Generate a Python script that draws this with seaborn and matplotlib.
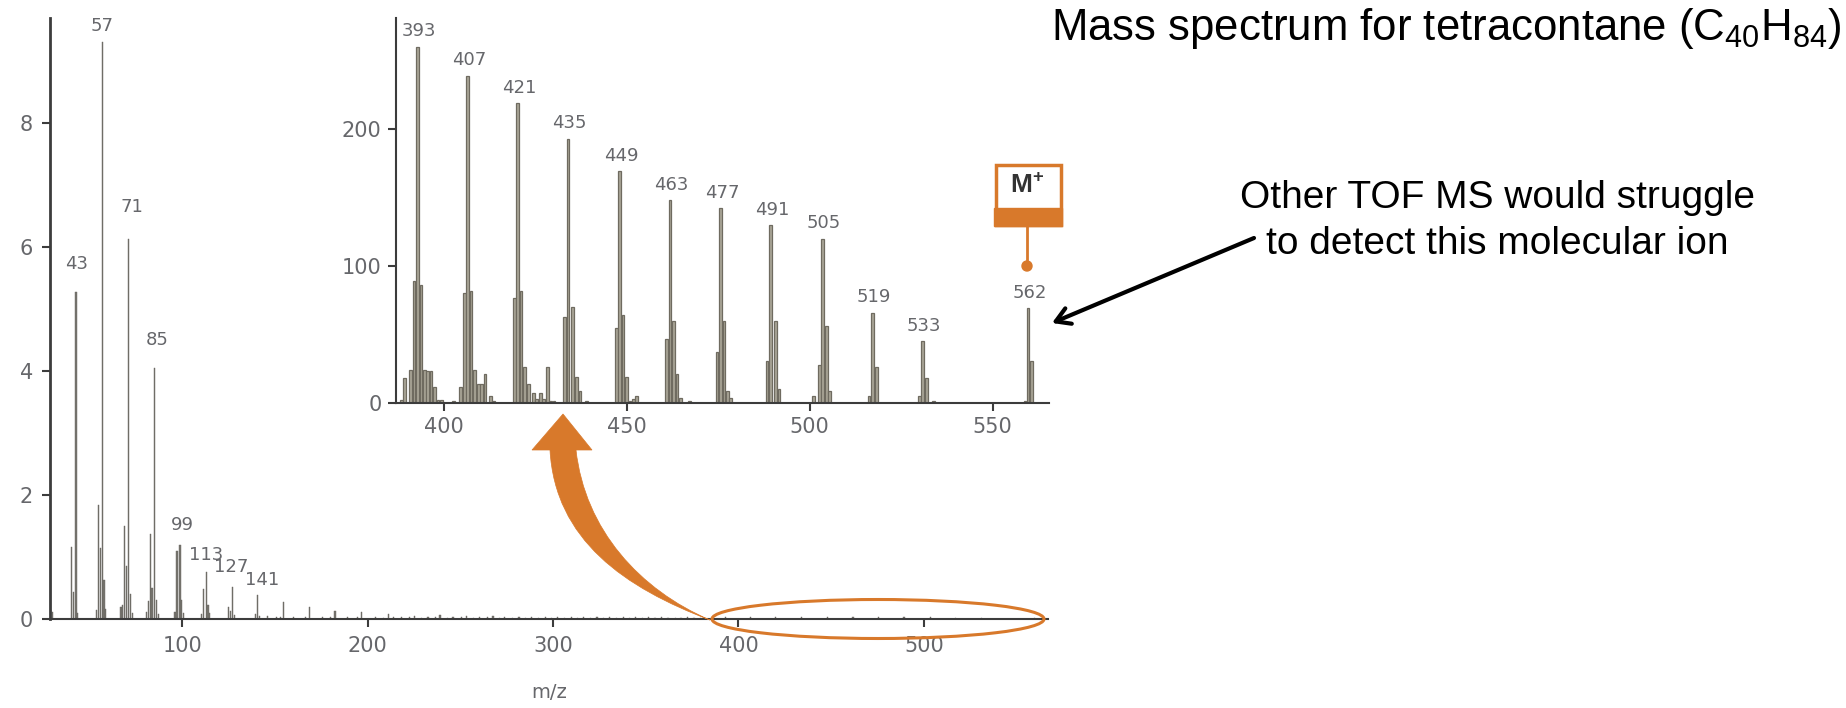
import matplotlib
matplotlib.use("Agg")
import matplotlib.pyplot as plt
from matplotlib.patches import Ellipse, PathPatch, Rectangle, Circle
from matplotlib.path import Path
import seaborn as sns

# main spectrum
main_mz = [28.6, 30.0, 40.3, 41.3, 42.6, 43.6, 53.6, 54.7, 55.7, 56.7, 57.7, 58.7, 66.9, 67.9, 68.9, 70.0, 71.0, 71.9, 72.9,
           80.8, 81.8, 82.6, 83.6, 85.0, 86.0, 87.0, 96.0, 97.1, 98.7, 99.7, 100.7, 110.2, 111.3, 112.8, 113.8, 114.8,
           124.8, 125.8, 127.0, 128.0, 139.2, 140.6, 141.6, 154.7, 168.8, 182.3, 196.8, 211.0, 225.4, 239.0, 253.4, 267.6]
main_int = [0.15, 0.12, 1.16, 0.44, 5.27, 0.1, 0.15, 1.83, 1.14, 9.31, 0.63, 0.16, 0.2, 0.23, 1.5, 0.85, 6.12, 0.41, 0.1,
            0.12, 0.29, 1.37, 0.5, 4.05, 0.3, 0.08, 0.12, 1.1, 1.19, 0.3, 0.1, 0.08, 0.48, 0.76, 0.22, 0.1,
            0.2, 0.13, 0.51, 0.06, 0.08, 0.38, 0.05, 0.27, 0.2, 0.13, 0.11, 0.08, 0.05, 0.07, 0.05, 0.05]
noise_mz = [146.0, 150.7, 153.0, 160.0, 166.5, 175.5, 180.0, 189.0, 194.5, 204.0, 208.5, 214.0, 218.2, 222.5, 229.0, 232.5,
            236.5, 243.0, 246.0, 250.5, 257.0, 260.5, 264.5, 271.0, 274.0, 278.0, 281.6, 285.0, 288.5, 292.0, 295.7, 299.0,
            302.5, 306.0, 309.8, 313.0, 316.5, 320.0, 323.7, 327.0, 330.5, 334.0, 337.8, 341.0, 344.5, 348.0, 351.7, 355.0,
            358.5, 362.0, 365.8, 369.0, 372.5, 376.0, 379.7, 392.8, 406.5, 420.2, 433.9, 448.0,
            461.8, 475.6, 489.3, 503.5, 517.2, 530.9, 559.7]
noise_int = [0.05, 0.04, 0.03, 0.04, 0.03, 0.04, 0.03, 0.04, 0.03, 0.03, 0.02, 0.03, 0.04, 0.03, 0.02, 0.03,
             0.03, 0.02, 0.04, 0.03, 0.02, 0.03, 0.03, 0.02, 0.04, 0.02, 0.03, 0.02, 0.04, 0.02, 0.03, 0.02,
             0.04, 0.02, 0.03, 0.02, 0.04, 0.02, 0.03, 0.02, 0.03, 0.02, 0.03, 0.02, 0.03, 0.02, 0.03, 0.02,
             0.03, 0.02, 0.02, 0.02, 0.03, 0.02, 0.02, 0.04, 0.04, 0.04, 0.03, 0.03,
             0.03, 0.03, 0.03, 0.03, 0.02, 0.02, 0.02]
main_labels = [43, 57, 71, 85, 99, 113, 127, 141]
main_label_mz = [42.6, 56.7, 71.0, 85.0, 98.7, 112.8, 127.0, 140.6]
main_label_int = [5.27, 9.31, 6.12, 4.05, 1.19, 0.76, 0.51, 0.38]

# zoomed region 385-565
inset_mz = [388.4, 389.3, 390.9, 391.8, 392.8, 393.7, 394.7, 395.6, 396.5, 397.5, 398.4, 399.4, 402.7,
            404.6, 405.6, 406.5, 407.4, 408.4, 409.4, 410.3, 411.2, 412.7, 413.6,
            419.3, 420.2, 421.1, 422.1, 423.1, 424.5, 425.4, 426.4, 427.3, 428.3, 429.2, 430.1,
            432.9, 433.9, 435.2, 436.2, 437.2, 439.0,
            447.1, 448.0, 449.0, 450.0, 450.9, 451.8, 452.7,
            460.8, 461.8, 462.8, 463.7, 464.7, 467.2,
            474.7, 475.6, 476.6, 477.5, 478.4,
            488.3, 489.3, 490.7, 491.6,
            501.1, 502.6, 503.5, 504.5, 505.4,
            516.2, 517.2, 518.2,
            530.0, 530.9, 531.9, 533.8,
            558.8, 559.7, 560.7]
inset_int = [2, 18, 24, 89, 260, 86, 24, 23, 23, 12, 2, 2, 1.5,
             12, 80, 239, 82, 24, 14, 14, 21, 5, 1.5,
             77, 219, 82, 26, 14, 7, 3, 7, 3, 26, 1.5, 1.5,
             63, 193, 70, 19, 8.5, 1.5,
             55, 169, 64, 19, 1.5, 3, 5,
             47, 148, 60, 21, 4, 1.5,
             37, 142, 60, 9, 4,
             31, 130, 60, 10,
             5, 28, 120, 56, 9,
             5, 66, 26,
             5, 45, 18, 1.2,
             1.5, 69, 31]
inset_labels = [393, 407, 421, 435, 449, 463, 477, 491, 505, 519, 533, 562]
inset_label_mz = [392.8, 406.5, 420.2, 433.9, 448.0, 461.8, 475.6, 489.3, 503.5, 517.2, 530.9, 559.7]
inset_label_int = [260, 239, 219, 193, 169, 148, 142, 130, 120, 66, 45, 69]

W, H = 1846, 708
ORANGE = "#d8792b"
GREY = "#66676b"

sns.set_style("ticks")
plt.rcParams["font.family"] = ["DejaVu Sans"]
plt.rcParams["mathtext.default"] = "regular"

fig = plt.figure(figsize=(W / 100, H / 100), dpi=100, facecolor="white")


def px_axes(left, top, right, bottom):
    return fig.add_axes([left / W, 1 - bottom / H, (right - left) / W, (bottom - top) / H], facecolor="none")


def style_axis(ax, pad):
    sns.despine(ax=ax)
    for side in ["left", "bottom"]:
        ax.spines[side].set_color("#3c3c3c")
        ax.spines[side].set_linewidth(1.5)
    ax.tick_params(length=6, width=1.5, color="#3c3c3c", labelcolor=GREY, labelsize=15, pad=pad)


# main axes
ax = px_axes(49.5, 18, 1048, 619)
sns.barplot(x=main_mz + noise_mz, y=main_int + noise_int, native_scale=True, orient="x", width=0.75, color="#77756f",
            saturation=1, errorbar=None, linewidth=0.3, edgecolor="#66645e", ax=ax)
ax.set_xlim(28.3, 567)
ax.set_ylim(0, 9.69)
ax.set_xticks([100, 200, 300, 400, 500])
ax.set_yticks([0, 2, 4, 6, 8])
ax.set_xlabel("m/z", color=GREY, fontsize=14, labelpad=20)
ax.set_ylabel("")
style_axis(ax, 6)
ax.spines["left"].set_linewidth(2)
main_offsets = {43: 28, 57: 16, 71: 32, 85: 28, 99: 20, 113: 17, 127: 20, 141: 15}
main_shift = {43: 1, 57: 0, 71: 3, 85: 3, 99: 2, 113: 0, 127: -1, 141: 4}
for lab, x, y in zip(main_labels, main_label_mz, main_label_int):
    ax.annotate(str(lab), (x, y), xytext=(main_shift[lab] * 0.72, main_offsets[lab] * 0.72),
                textcoords="offset points", ha="center", va="center", fontsize=13, color=GREY)

# inset axes
ins = px_axes(395.6, 18, 1049, 403)
sns.barplot(x=inset_mz, y=inset_int, native_scale=True, orient="x", width=0.8, color="#aaa698",
            saturation=1, errorbar=None, linewidth=0.9, edgecolor="#6f6b60", ax=ins)
ins.set_xlim(386.8, 565.4)
ins.set_ylim(0, 281)
ins.set_xticks([400, 450, 500, 550])
ins.set_yticks([0, 100, 200])
ins.set_xlabel("")
ins.set_ylabel("")
style_axis(ins, 4)
for lab, x, y in zip(inset_labels, inset_label_mz, inset_label_int):
    ins.annotate(str(lab), (x, y), xytext=(1, 11), textcoords="offset points", ha="center", va="center",
                 fontsize=13, color=GREY)

# overlay in pixel coordinates for the callouts
over = fig.add_axes([0, 0, 1, 1], facecolor="none")
over.set_xlim(0, W)
over.set_ylim(H, 0)
over.axis("off")

over.add_patch(Ellipse((878, 619), 332, 39, fill=False, edgecolor=ORANGE, linewidth=2.2))

arrow_verts = [(710, 620), (625, 588), (555, 540), (550, 450),
               (532, 450), (563, 414), (592, 450), (576, 450),
               (585, 530), (640, 590), (710, 620), (710, 620)]
arrow_codes = [Path.MOVETO, Path.CURVE4, Path.CURVE4, Path.CURVE4,
               Path.LINETO, Path.LINETO, Path.LINETO, Path.LINETO,
               Path.CURVE4, Path.CURVE4, Path.CURVE4, Path.CLOSEPOLY]
over.add_patch(PathPatch(Path(arrow_verts, arrow_codes), facecolor=ORANGE, edgecolor=ORANGE, linewidth=0.5))

# M+ marker
over.plot([1027, 1027], [226, 262], color=ORANGE, lw=2)
over.add_patch(Circle((1027, 266), 5, color=ORANGE))
over.add_patch(Rectangle((995.5, 164.5), 65, 60, fill=False, edgecolor=ORANGE, linewidth=2.5))
over.add_patch(Rectangle((994, 208), 68, 18, color=ORANGE))
over.text(1027, 186, "M$^{+}$", ha="center", va="center", fontsize=19, fontweight="bold", color="#333333",
          family="Liberation Sans")

over.annotate("", xy=(1052, 323), xytext=(1254, 238),
              arrowprops=dict(arrowstyle="->,head_length=1.0,head_width=0.6", lw=3, color="black", shrinkA=0, shrinkB=0))

over.text(1841, 40, "Mass spectrum for tetracontane (C$_{40}$H$_{84}$)", ha="right", va="baseline", fontsize=31.5,
          family="Liberation Sans", color="black")
over.text(1497, 198, "Other TOF MS would struggle", ha="center", va="center", fontsize=28,
          family="Liberation Sans", color="black")
over.text(1497, 244, "to detect this molecular ion", ha="center", va="center", fontsize=28,
          family="Liberation Sans", color="black")

fig.savefig("out.png", dpi=100)
